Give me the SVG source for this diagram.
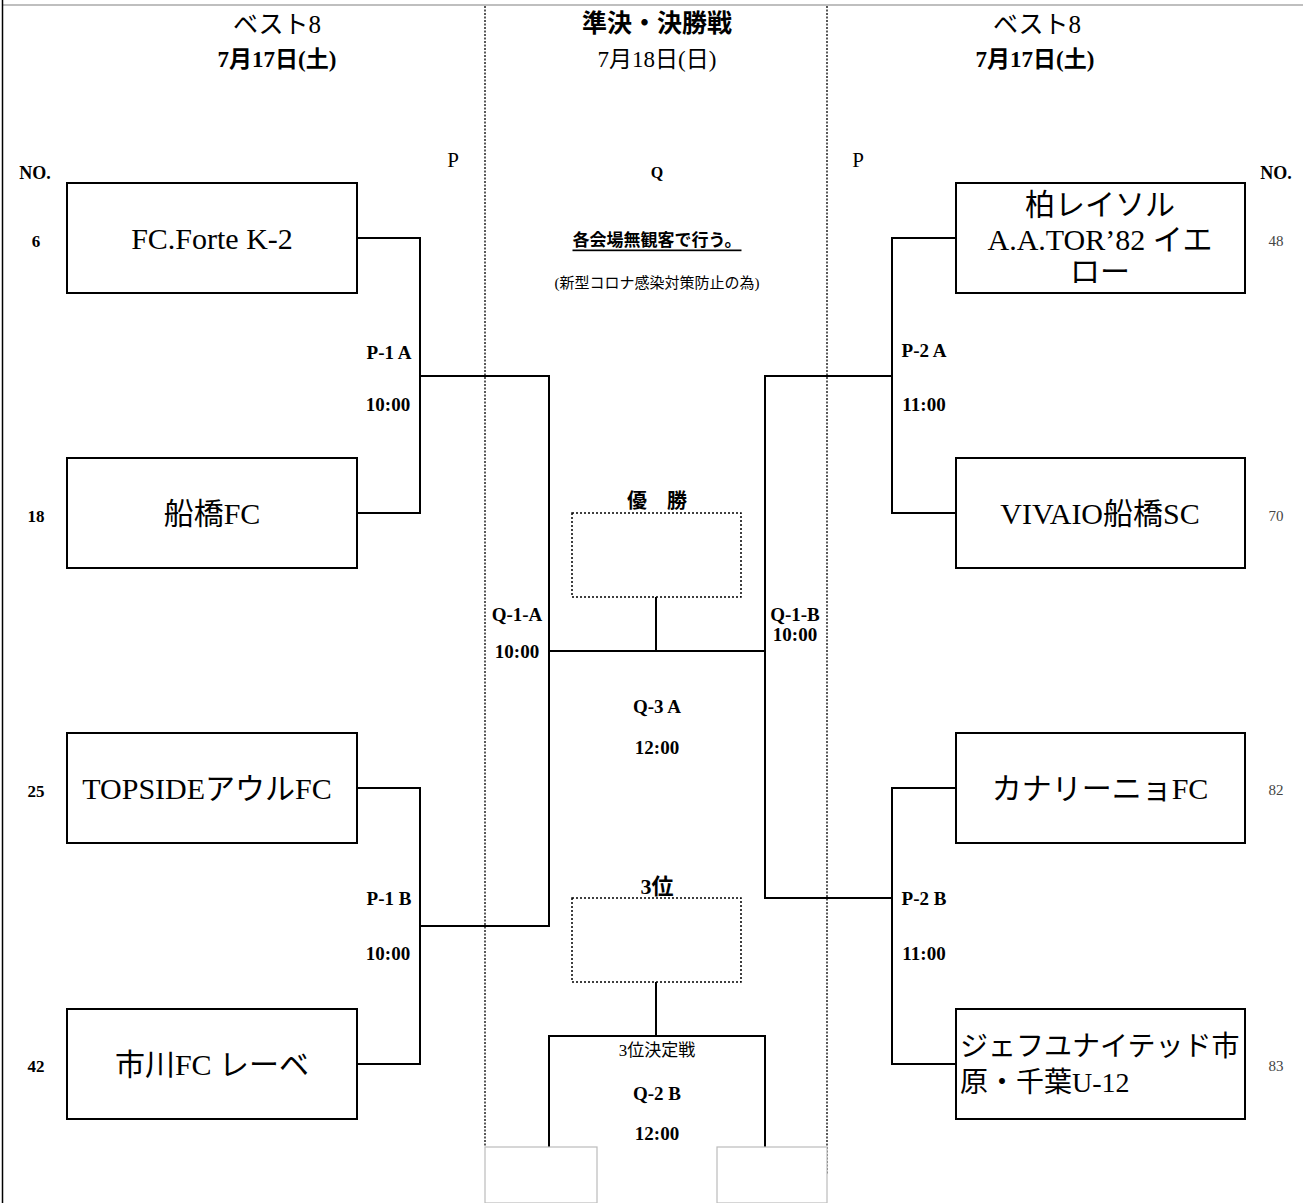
<svg xmlns="http://www.w3.org/2000/svg" width="1303" height="1203" viewBox="0 0 1303 1203">
<style>
text{font-family:"Liberation Serif","Noto Sans CJK JP",serif;fill:#000;text-anchor:middle;dominant-baseline:central}
text.st{text-anchor:start}
.team{font-size:30px}
.lbl{font-size:19px;font-weight:bold}
.hd{font-size:25px}
.dt{font-size:23px;font-weight:bold}
.no{font-size:17px;font-weight:bold}
.rno{font-size:15px;fill:#444}
.box{fill:#fff;stroke:#000;stroke-width:2}
.dbox{fill:none;stroke:#000;stroke-width:1.5;stroke-dasharray:2 2}
.grid{fill:none;stroke:#000;stroke-width:1.3;stroke-dasharray:2 1.5}
.gbox{fill:#fff;stroke:#bbb;stroke-width:1.2}
.con{fill:none;stroke:#000;stroke-width:2}
</style>
<rect width="1303" height="1203" fill="#fff"/>
<g id="frame">
<line x1="3" y1="5" x2="1303" y2="5" stroke="#aaa" stroke-width="1.5"/>
<line x1="2.5" y1="0" x2="2.5" y2="1203" stroke="#000" stroke-width="1.5"/>
<line class="grid" x1="485" y1="6" x2="485" y2="1147"/>
<line class="grid" x1="827" y1="6" x2="827" y2="1175"/>
</g>
<g id="headers">
<text class="hd" x="277" y="24">ベスト8</text>
<text class="dt" x="277" y="59">7月17日(土)</text>
<text class="hd" x="657" y="23" font-weight="bold">準決・決勝戦</text>
<text class="dt" x="657" y="59" style="font-weight:normal">7月18日(日)</text>
<text class="hd" x="1037" y="24">ベスト8</text>
<text class="dt" x="1035" y="59">7月17日(土)</text>
<text x="453" y="160" font-size="21">P</text>
<text x="657" y="172" font-size="16" font-weight="bold">Q</text>
<text x="858" y="160" font-size="21">P</text>
<text x="35" y="173" font-size="18" font-weight="bold">NO.</text>
<text x="1276" y="173" font-size="18" font-weight="bold">NO.</text>
<text x="657" y="240" font-size="17" font-weight="bold" text-decoration="underline">各会場無観客で行う。</text>
<text x="657" y="283" font-size="15" fill="#333">(新型コロナ感染対策防止の為)</text>
</g>
<g id="connectors">
<polyline class="con" points="357,238 420,238 420,513 357,513"/>
<polyline class="con" points="357,788 420,788 420,1064 357,1064"/>
<polyline class="con" points="420,376 549,376 549,926 420,926"/>
<polyline class="con" points="956,238 892,238 892,513 956,513"/>
<polyline class="con" points="956,788 892,788 892,1064 956,1064"/>
<polyline class="con" points="892,376 765,376 765,898 892,898"/>
<line class="con" x1="549" y1="651" x2="765" y2="651"/>
<line class="con" x1="656" y1="597" x2="656" y2="651"/>
<line class="con" x1="656" y1="982" x2="656" y2="1036"/>
<polyline class="con" points="549,1147 549,1036 765,1036 765,1147"/>
</g>
<g id="team-6"><rect class="box" x="67" y="183" width="290" height="110"/><text class="team" x="212" y="238">FC.Forte K-2</text><text class="no" x="36" y="241">6</text></g>
<g id="team-18"><rect class="box" x="67" y="458" width="290" height="110"/><text class="team" x="212" y="513">船橋FC</text><text class="no" x="36" y="516">18</text></g>
<g id="team-25"><rect class="box" x="67" y="733" width="290" height="110"/><text class="team" x="207" y="788">TOPSIDEアウルFC</text><text class="no" x="36" y="791">25</text></g>
<g id="team-42"><rect class="box" x="67" y="1009" width="290" height="110"/><text class="team" x="212" y="1064">市川FC レーベ</text><text class="no" x="36" y="1066">42</text></g>
<g id="team-48"><rect class="box" x="956" y="183" width="289" height="110"/><text class="team" x="1100" y="204" font-size="29">柏レイソル</text><text class="team" x="1100" y="239">A.A.TOR’82 イエ</text><text class="team" x="1100" y="271" font-size="29">ロー</text><text class="rno" x="1276" y="241">48</text></g>
<g id="team-70"><rect class="box" x="956" y="458" width="289" height="110"/><text class="team" x="1100" y="513">VIVAIO船橋SC</text><text class="rno" x="1276" y="516">70</text></g>
<g id="team-82"><rect class="box" x="956" y="733" width="289" height="110"/><text class="team" x="1100" y="788">カナリーニョFC</text><text class="rno" x="1276" y="790">82</text></g>
<g id="team-83"><rect class="box" x="956" y="1009" width="289" height="110"/><text class="team st" x="960" y="1046" style="font-size:28px">ジェフユナイテッド市</text><text class="team st" x="960" y="1082" style="font-size:28px">原・千葉U-12</text><text class="rno" x="1276" y="1066">83</text></g>
<g id="match-labels">
<text class="lbl" x="389" y="352">P-1 A</text>
<text class="lbl" x="388" y="404">10:00</text>
<text class="lbl" x="389" y="898">P-1 B</text>
<text class="lbl" x="388" y="953">10:00</text>
<text class="lbl" x="924" y="350">P-2 A</text>
<text class="lbl" x="924" y="404">11:00</text>
<text class="lbl" x="924" y="898">P-2 B</text>
<text class="lbl" x="924" y="953">11:00</text>
<text class="lbl" x="517" y="614">Q-1-A</text>
<text class="lbl" x="517" y="651">10:00</text>
<text class="lbl" x="795" y="614">Q-1-B</text>
<text class="lbl" x="795" y="634">10:00</text>
<text class="lbl" x="657" y="706">Q-3 A</text>
<text class="lbl" x="657" y="747">12:00</text>
<text class="lbl" x="657" y="1093">Q-2 B</text>
<text class="lbl" x="657" y="1133">12:00</text>
<text x="657" y="1050" font-size="17" fill="#555">3位決定戦</text>
</g>
<g id="winner"><rect class="dbox" x="572" y="513" width="169" height="84"/><text x="657" y="501" font-size="20" font-weight="bold">優　勝</text></g>
<g id="third"><rect class="dbox" x="572" y="898" width="169" height="84"/><text x="657" y="886" font-size="22" font-weight="bold">3位</text></g>
<g id="bottom-boxes">
<rect class="gbox" x="485" y="1147" width="112" height="56"/>
<rect class="gbox" x="717" y="1147" width="110" height="56"/>
</g>
</svg>
